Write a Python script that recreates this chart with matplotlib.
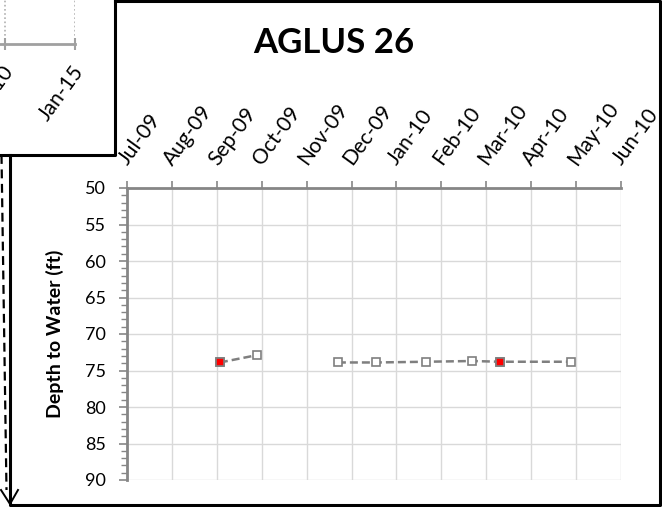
import numpy as np
import matplotlib
matplotlib.use("Agg")
import matplotlib.pyplot as plt
import matplotlib.dates as mdates
import matplotlib.transforms as mtransforms
from matplotlib.lines import Line2D

plt.rcParams['font.family'] = ['Lato', 'DejaVu Sans']

# ---- data -------------------------------------------------------------
title = "AGLUS 26"
y_label = "Depth to Water (ft)"
month_labels = ["Jul-09", "Aug-09", "Sep-09", "Oct-09", "Nov-09", "Dec-09",
                "Jan-10", "Feb-10", "Mar-10", "Apr-10", "May-10", "Jun-10"]
axis_start = "2009-07-01"
axis_end = "2010-06-01"
depth_top, depth_bottom = 50, 90

# water-level readings (blank reading breaks the line)
reading_dates = ["2009-09-02", "2009-09-27", "2009-10-24", "2009-11-21",
                 "2009-12-17", "2010-01-20", "2010-02-20", "2010-03-11",
                 "2010-04-28"]
depth_to_water = [73.9, 72.9, np.nan, 73.9, 73.9, 73.8, 73.7, 73.8, 73.8]

# flagged readings drawn in red
flagged_dates = ["2009-09-02", "2010-03-11"]
flagged_depth = [73.9, 73.8]

# long-term overview strip (top-left)
overview_years = [2005, 2010, 2015]
overview_labels = ["Jan-05", "Jan-10", "Jan-15"]
overview_range = (2003, 2015)

# ---- layout helpers ----------------------------------------------------
W, H = 662, 507
fig = plt.figure(figsize=(W / 100, H / 100), dpi=100)
fig.patch.set_facecolor("white")


def fx(px):
    return px / W


def fy(py):
    return 1 - py / H


def px_rect(left, top, right, bottom):
    return [fx(left), fy(bottom), (right - left) / W, (bottom - top) / H]


def nudge(labels, dx_px, dy_px=0):
    off = mtransforms.ScaledTranslation(dx_px / 100, dy_px / 100,
                                        fig.dpi_scale_trans)
    for lab in labels:
        lab.set_transform(lab.get_transform() + off)


GRID = "#d9d9d9"
AXIS = "#868686"
SERIES = "#7f7f7f"
LABEL_ANGLE = 54

# ---- main chart --------------------------------------------------------
ax = fig.add_axes(px_rect(127, 188, 621, 480))
ax.set_facecolor("none")

x0 = mdates.datestr2num(axis_start)
x1 = mdates.datestr2num(axis_end)
ax.set_xlim(x0, x1)
ax.set_ylim(depth_bottom, depth_top)

ax.xaxis.tick_top()
ax.set_xticks(np.linspace(x0, x1, len(month_labels)))
ax.set_xticklabels(month_labels, rotation=LABEL_ANGLE, ha="left",
                   va="bottom", rotation_mode="anchor")
ax.set_yticks(np.arange(depth_top, depth_bottom + 1, 5))
ax.set_yticks(np.arange(depth_top, depth_bottom + 1, 1), minor=True)

ax.tick_params(axis="x", which="major", direction="out", length=5,
               width=1.2, color=AXIS, pad=9, labelsize=15)
ax.tick_params(axis="y", which="major", direction="out", length=6,
               width=1.2, color=AXIS, pad=9, labelsize=13)
ax.tick_params(axis="y", which="minor", direction="out", length=4,
               width=1.0, color=AXIS)
ax.tick_params(axis="x", which="minor", length=0)
nudge(ax.get_xticklabels(), 4)

for side in ("bottom", "right"):
    ax.spines[side].set_visible(False)
for side in ("top", "left"):
    ax.spines[side].set_color(AXIS)
    ax.spines[side].set_linewidth(2)
    ax.spines[side].set_zorder(3)

ax.grid(True, which="major", color=GRID, linewidth=1)
ax.set_axisbelow(True)

xd = mdates.datestr2num(reading_dates)
ax.plot(xd, depth_to_water, linestyle=(0, (3.2, 1.6)), color=SERIES,
        linewidth=1.8, marker="s", markersize=5.5, markerfacecolor="white",
        markeredgecolor=SERIES, markeredgewidth=1.2, zorder=4, clip_on=False)
ax.plot(mdates.datestr2num(flagged_dates), flagged_depth, linestyle="none",
        marker="s", markersize=5.5, markerfacecolor="#ff0000",
        markeredgecolor=SERIES, markeredgewidth=1.2, zorder=5)

fig.text(fx(334), fy(53), title, ha="center", va="baseline",
         fontsize=25, fontweight="bold")
fig.text(fx(55), fy(334), y_label, ha="center", va="center",
         rotation=90, fontsize=14, fontweight="bold")

# ---- overview strip cut off at top-left ---------------------------------
span = overview_range[1] - overview_range[0]
inset_left = 75 - 14 * span
ov = fig.add_axes(px_rect(inset_left, -80, 75, 44))
ov.set_facecolor("none")
ov.set_xlim(*overview_range)
ov.set_ylim(0, 1)
ov.set_xticks(overview_years)
ov.set_xticklabels(overview_labels, rotation=LABEL_ANGLE, ha="right",
                   va="top", rotation_mode="anchor")
ov.set_yticks([])
ov.tick_params(axis="x", direction="inout", length=9, width=1.5,
               color="#a0a0a0", pad=10, labelsize=15)
for side in ("top", "left", "right"):
    ov.spines[side].set_visible(False)
ov.spines["bottom"].set_color("#a0a0a0")
ov.spines["bottom"].set_linewidth(2)
ov.grid(True, axis="x", color="#b0b0b0", linestyle=(0, (1, 1.5)),
        linewidth=1.2)
nudge(ov.get_xticklabels(), -3, 2)

# ---- frames and connector arrow ----------------------------------------
def frame_line(xs, ys, **kw):
    fig.add_artist(Line2D([fx(v) for v in xs], [fy(v) for v in ys],
                          transform=fig.transFigure, **kw))


frame_kw = dict(color="black", linewidth=2.2, solid_capstyle="projecting")
frame_line([115, 660, 660, 10, 10], [1, 1, 505, 505, 155], **frame_kw)
frame_line([0, 115, 115], [155, 155, 0], **frame_kw)

frame_line([1.5, 6.5], [155, 490], color="black", linewidth=1.6,
           linestyle=(0, (4, 2.5)))
frame_line([1, 10, 18], [490, 504, 490], color="black", linewidth=1.4)

fig.savefig("out.png", dpi=100, facecolor="white")
